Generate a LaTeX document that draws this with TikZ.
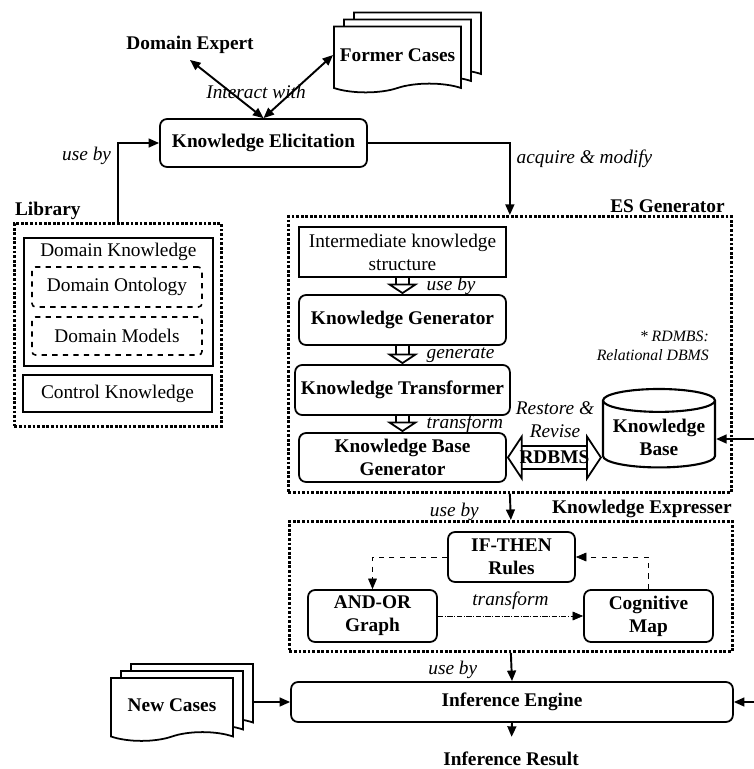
\documentclass[tikz,border=0pt]{standalone}
\usepackage{fontspec}
\setmainfont{Liberation Serif}
\usetikzlibrary{arrows.meta,positioning,calc,shapes.geometric,shapes.symbols,shadows}
\newcommand\fs{\fontsize{11}{13}\selectfont}

\begin{document}
\begin{tikzpicture}[
    x=0.02cm, y=-0.02cm,
    >={Triangle[length=6pt,width=5pt]},
    every node/.style={font=\fs},
    bold/.style={font=\fs\bfseries},
    lbl/.style={font=\fs\itshape},
    box/.style={draw, line width=1pt, minimum width=4.14cm, minimum height=1cm, align=center},
    rbox/.style={box, rounded corners=4pt},
    grp/.style={draw, densely dotted, line width=1.6pt, anchor=north west},
    dbox/.style={draw, dashed, line width=0.9pt, minimum width=3.4cm, rounded corners=2pt},
    cases/.style={draw, tape, tape bend top=none, fill=white, line width=1pt, bold,
      double copy shadow={shadow xshift=0.2cm, shadow yshift=0.14cm, line width=1pt}},
    kbase/.style={draw, cylinder, shape border rotate=90, aspect=0.22, line width=1.2pt,
      minimum width=2.24cm, minimum height=1.45cm, align=center, bold},
    link/.style={->, line width=1.1pt},
    hollow/.style={double, double distance=6.5pt, line width=1pt, -{Triangle[open,length=6pt,width=18pt]}},
    dblhollow/.style={double, double distance=12pt, line width=1pt,
      {Triangle[open,length=9pt,width=27pt]}-{Triangle[open,length=9pt,width=27pt]}}
  ]
  \useasboundingbox (0,0) rectangle (754,769);

  % groups
  \node[grp, minimum width=4.14cm, minimum height=4.06cm] (lib) at (13,222) {};
  \node[bold, anchor=south west, inner sep=1pt] at (lib.north west) {Library};
  \node[grp, minimum width=8.86cm, minimum height=5.52cm] (esg) at (287,215) {};
  \node[bold, anchor=south east, inner sep=1pt, xshift=-0.12cm] at (esg.north east) {ES Generator};
  \node[grp, minimum width=8.86cm, minimum height=2.6cm] (kex) at (288,520) {};
  \node[bold, anchor=south east, inner sep=1pt] at (kex.north east) {Knowledge Expresser};

  % library
  \node[box, anchor=north west, minimum width=3.78cm, minimum height=2.56cm,
    label={[anchor=north]north:Domain Knowledge}] (dk) at (23,237) {};
  \node[dbox, minimum height=0.8cm] (dont) at (117,287) {Domain Ontology};
  \node[dbox, minimum height=0.76cm] (dmod) at (117,336) {Domain Models};
  \node[box, minimum width=3.78cm, minimum height=0.74cm] (ck) at (117.5,393.5) {Control Knowledge};

  % elicitation
  \node[rbox, bold, minimum height=0.96cm] (ke) at (263.5,143) {Knowledge Elicitation};
  \node[bold] (de) at (190,45) {Domain Expert};
  \node[cases, minimum width=2.38cm, minimum height=1.32cm] (fc) at (397.5,55) {Former Cases};
  \draw[<->, line width=1.1pt] (ke.north) -- (de.south);
  \draw[<->, line width=1.1pt] (ke.north) -- (fc.west);
  \node[lbl] at (256,92) {Interact with};
  \draw[link] (lib.north) |- node[lbl, pos=0.42, left] {use by} (ke.west);
  \draw[link] (ke.east) -| node[lbl, pos=0.5, anchor=north west] {acquire \& modify} (esg.north);

  % ES generator
  \node[box] (iks) at (402.5,252) {Intermediate knowledge\\structure};
  \node[rbox, bold] (kg) at (402.5,320) {Knowledge Generator};
  \node[rbox, bold] (kt) at (402.5,390) {Knowledge Transformer};
  \node[rbox, bold, minimum height=0.98cm] (kbg) at (402.5,457.5) {Knowledge Base\\Generator};
  \node[kbase] (kb) at (659,437) {Knowledge\\Base};
  \draw[hollow] (iks) -- node[lbl, right=0.35cm] {use by} (kg);
  \draw[hollow] (kg) -- node[lbl, right=0.35cm] {generate} (kt);
  \draw[hollow] (kt) -- node[lbl, right=0.35cm] {transform} (kbg);
  \draw[dblhollow] (kbg.east) -- node[bold] {RDBMS} (kbg.east -| kb.west);
  \node[lbl, align=center] at (555,420) {Restore \&\\Revise};
  \node[font=\fontsize{9}{11}\selectfont\itshape, align=right, anchor=east] at (715,346) {* RDMBS:\\Relational DBMS};
  \coordinate (kbin) at (754,439);
  \draw[link] (kbin) -- (kbin -| kb.east);

  % knowledge expresser
  \node[rbox, bold, minimum width=2.54cm] (ifr) at (511.5,557) {IF-THEN\\Rules};
  \node[rbox, bold, minimum width=2.58cm, minimum height=1.04cm] (aog) at (372.5,616) {AND-OR\\Graph};
  \node[rbox, bold, minimum width=2.58cm, minimum height=1.04cm] (cgm) at (648.5,616) {Cognitive\\Map};
  \draw[->, dashed, thin] (ifr.west) -| (aog.north);
  \draw[->, dashed, thin] (cgm.north) |- (ifr.east);
  \draw[->, densely dashdotted, thin] (aog) -- node[lbl, above] {transform} (cgm);
  \draw[link] (esg.south) -- node[lbl, pos=0.7, left=0.5cm] {use by} (kex.north);

  % inference
  \node[rbox, bold, minimum width=8.84cm, minimum height=0.8cm] (ie) at (512,702) {Inference Engine};
  \node[cases, minimum width=2.44cm, minimum height=1.26cm] (nc) at (172,705) {New Cases};
  \node[bold] (res) at (511,759) {Inference Result};
  \draw[link] (kex.south) -- node[lbl, pos=0.6, left=0.55cm] {use by} (ie.north);
  \draw[link, shorten >=0.18cm] (ie.south) -- (res);
  \draw[link, shorten <=0.36cm] (nc.east |- ie.west) -- (ie.west);
  \coordinate (iein) at (754,702);
  \draw[link] (iein) -- (ie.east);
\end{tikzpicture}
\end{document}
